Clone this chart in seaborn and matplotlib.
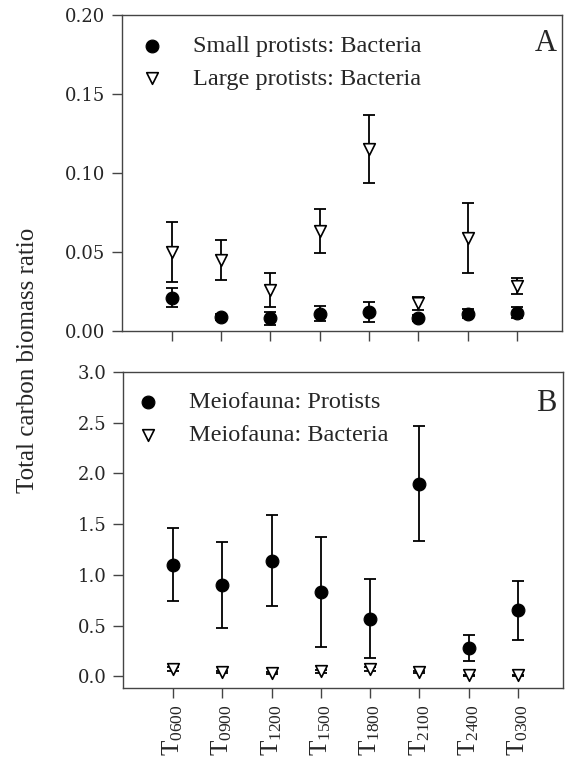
import numpy as np
import pandas as pd
import matplotlib
matplotlib.use('Agg')
import matplotlib.pyplot as plt
import seaborn as sns

# ---- data ----
times = ['0600', '0900', '1200', '1500', '1800', '2100', '2400', '0300']
small_mean = [0.021, 0.009, 0.008, 0.011, 0.012, 0.008, 0.011, 0.0115]
small_err = [0.006, 0.002, 0.004, 0.005, 0.0065, 0.002, 0.003, 0.0035]
large_mean = [0.050, 0.045, 0.026, 0.0635, 0.115, 0.0175, 0.059, 0.0285]
large_err = [0.019, 0.0125, 0.011, 0.014, 0.0215, 0.004, 0.022, 0.0048]
prot_mean = [1.10, 0.90, 1.14, 0.83, 0.57, 1.90, 0.28, 0.65]
prot_err = [0.36, 0.42, 0.45, 0.54, 0.39, 0.57, 0.13, 0.29]
bact_mean = [0.07, 0.04, 0.03, 0.05, 0.07, 0.04, 0.01, 0.01]
bact_err = [0.02, 0.01, 0.01, 0.015, 0.02, 0.01, 0.005, 0.005]

sns.set_style('ticks')
plt.rcParams['font.family'] = ['Liberation Serif', 'DejaVu Serif']
plt.rcParams['mathtext.fontset'] = 'custom'
plt.rcParams['mathtext.rm'] = 'Liberation Serif'
plt.rcParams['mathtext.it'] = 'Liberation Serif:italic'
plt.rcParams['mathtext.bf'] = 'Liberation Serif:bold'

x = np.arange(len(times))
dfA = pd.DataFrame({'x': x, 'small': small_mean, 'small_err': small_err,
                    'large': large_mean, 'large_err': large_err})
dfB = pd.DataFrame({'x': x, 'prot': prot_mean, 'prot_err': prot_err,
                    'bact': bact_mean, 'bact_err': bact_err})

fig = plt.figure(figsize=(5.67, 7.76), dpi=100)
axA = fig.add_axes([0.215, 0.5735, 0.776, 0.4072])
axB = fig.add_axes([0.217, 0.1134, 0.776, 0.4072])

ekw = dict(fmt='none', ecolor='black', elinewidth=1.3, capsize=4.5, capthick=1.3, zorder=2)
circ = dict(marker='o', color='black', edgecolor='black', s=85, linewidth=0.8, zorder=3)
tri = dict(marker='v', color='white', edgecolor='black', s=70, linewidth=1.2, zorder=3)

# Panel A
axA.errorbar(dfA['x'], dfA['small'], yerr=dfA['small_err'], **ekw)
axA.errorbar(dfA['x'], dfA['large'], yerr=dfA['large_err'], **ekw)
sns.scatterplot(data=dfA, x='x', y='small', ax=axA, label='Small protists: Bacteria', **circ)
sns.scatterplot(data=dfA, x='x', y='large', ax=axA, label='Large protists: Bacteria', **tri)

# Panel B
axB.errorbar(dfB['x'], dfB['prot'], yerr=dfB['prot_err'], **ekw)
axB.errorbar(dfB['x'], dfB['bact'], yerr=dfB['bact_err'], **ekw)
sns.scatterplot(data=dfB, x='x', y='prot', ax=axB, label='Meiofauna: Protists', **circ)
sns.scatterplot(data=dfB, x='x', y='bact', ax=axB, label='Meiofauna: Bacteria', **tri)

legend_anchor = {0: (0.041, 0.937), 1: (0.030, 0.940)}
for i, ax in enumerate((axA, axB)):
    ax.set_xlim(-1.01, 7.91)
    ax.set_xticks(x)
    ax.set_xlabel('')
    ax.set_ylabel('')
    for sp in ax.spines.values():
        sp.set_visible(True)
        sp.set_linewidth(1.0)
        sp.set_color('#444444')
    ax.tick_params(axis='both', direction='out', length=7, width=1.0, color='#444444',
                   labelsize=13, pad=5)
    ax.legend(loc='upper left', bbox_to_anchor=legend_anchor[i], frameon=False,
              fontsize=17.5, handlelength=1.0, handletextpad=1.19, labelspacing=0.45,
              borderpad=0, borderaxespad=0, markerscale=1.0)

axA.set_ylim(0, 0.20)
axA.set_yticks([0, 0.05, 0.10, 0.15, 0.20])
axA.set_yticklabels(['0.00', '0.05', '0.10', '0.15', '0.20'], fontfamily='DejaVu Serif')
axA.set_xticklabels([])

axB.set_ylim(-0.115, 3.0)
axB.set_yticks([0, 0.5, 1.0, 1.5, 2.0, 2.5, 3.0])
axB.set_yticklabels(['0.0', '0.5', '1.0', '1.5', '2.0', '2.5', '3.0'], fontfamily='DejaVu Serif')
axB.set_xticklabels([r'T$_{\mathrm{%s}}$' % t for t in times], rotation=90, fontsize=18)

axA.text(0.989, 0.91, 'A', transform=axA.transAxes, ha='right', va='center', fontsize=22)
axB.text(0.986, 0.899, 'B', transform=axB.transAxes, ha='right', va='center', fontsize=22)

fig.text(0.05, 0.536, 'Total carbon biomass ratio', rotation=90, ha='center', va='center',
         fontsize=18)

fig.savefig('out.png', dpi=100)
